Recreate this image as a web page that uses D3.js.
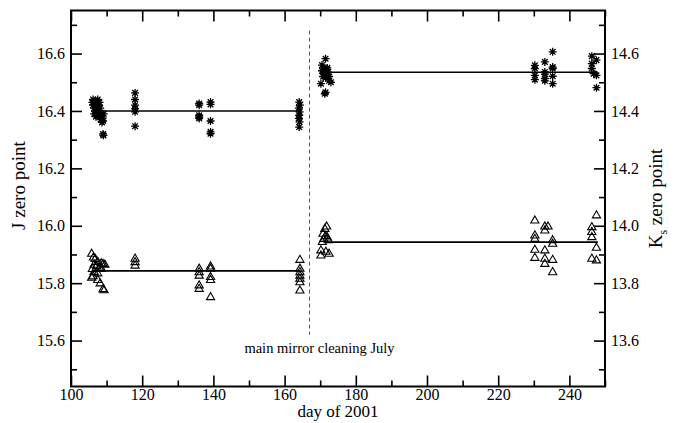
<!DOCTYPE html>
<html><head><meta charset="utf-8">
<script src="https://cdn.jsdelivr.net/npm/d3@7"></script>
<style>body{margin:0;background:#fff}svg{display:block}text{font-family:"Liberation Serif","DejaVu Serif",serif;fill:#000}</style>
</head><body><svg id="c" width="675" height="423"></svg>
<script>
// J zero point (asterisks), [day, value]
const jPoints = [
 [106,16.43],[106.2,16.42],[106.5,16.41],[106.8,16.435],[107,16.425],[107.2,16.415],[107.5,16.44],[107.3,16.40],
 [106.5,16.39],[107.8,16.42],[108,16.43],[108.2,16.41],[107.6,16.395],[108.5,16.38],[108.3,16.37],[108.7,16.36],
 [109,16.365],[108.9,16.375],[109.2,16.39],[108,16.39],[109,16.32],[109.1,16.315],[106.2,16.44],[107,16.38],
 [118,16.463],[118,16.44],[118,16.42],[118,16.408],[118,16.397],[118,16.347],
 [136,16.426],[136,16.42],[136,16.385],[136,16.379],[136,16.374],
 [139.2,16.431],[139.2,16.423],[139.2,16.365],[139.2,16.327],[139.2,16.321],
 [164.1,16.431],[164.3,16.42],[164,16.41],[164.2,16.397],[164.1,16.385],[164,16.374],[164.2,16.362],[164.1,16.344],
 [171.5,16.582],[170.5,16.56],[171,16.55],[171.5,16.545],[172,16.55],[170.5,16.54],[171,16.53],[172.2,16.535],
 [170.8,16.52],[171.5,16.515],[172.5,16.52],[172.5,16.505],[173,16.50],[170.2,16.495],[171.5,16.465],[171.3,16.46],
 [172,16.545],[171.8,16.53],
 [230.3,16.559],[230.3,16.548],[230.3,16.524],[230.3,16.509],
 [233.1,16.571],[233.1,16.536],[233.1,16.528],[233.1,16.513],[233.1,16.505],
 [235.3,16.606],[235.3,16.553],[235.3,16.548],[235.3,16.521],[235.3,16.495],
 [246.3,16.591],[247.6,16.577],[246.3,16.565],[246.3,16.548],[246.8,16.53],[247.6,16.524],[247.6,16.481]
];
// Ks zero point (triangles), [day, value]
const kPoints = [
 [105.8,13.903],[106.3,13.89],[106.8,13.885],[107.5,13.875],[108.5,13.87],[109,13.868],[106.5,13.865],[107.2,13.86],
 [108,13.855],[106,13.85],[106.5,13.84],[107.5,13.835],[106.2,13.825],[105.8,13.82],[107.5,13.812],[108.2,13.80],
 [109,13.78],[109.3,13.776],[109.5,13.865],[108.6,13.85],
 [118,13.886],[118,13.874],[118,13.862],
 [136,13.851],[136,13.839],[136,13.827],[136,13.793],[136,13.781],
 [139.2,13.859],[139.2,13.851],[139.2,13.822],[139.2,13.812],[139.2,13.752],
 [164.3,13.882],[164.3,13.851],[164.3,13.839],[164.3,13.827],[164.3,13.816],[164.3,13.804],[164.3,13.775],
 [171.8,13.998],[171.3,13.99],[170.8,13.973],[171.5,13.965],[172,13.96],[171,13.955],[172.3,13.95],[170.6,13.944],
 [170.2,13.915],[172.5,13.903],[170.2,13.897],[171.6,13.91],
 [230.3,14.019],[230.3,13.967],[230.3,13.955],[230.3,13.917],[230.3,13.889],
 [233.1,13.998],[234,13.998],[233.1,13.984],[233.1,13.915],[233.1,13.886],[233.1,13.868],
 [235.3,13.95],[235.3,13.938],[235.3,13.882],[235.3,13.839],
 [247.6,14.037],[246.3,13.996],[246.3,13.979],[246.3,13.961],[247.6,13.924],[246.3,13.886],[247.6,13.88]
];
// mean levels: [startDay, endDay, value]
const jFits = [[106,164.5,16.40],[171,248,16.535]];
const kFits = [[106,164.5,13.843],[171,248,13.943]];
const cleaningDay = 167;
const cleaningSpan = [15.62, 16.68]; // J units
const cleaningLabel = "main mirror cleaning July";
const xMajor = [100,120,140,160,180,200,220,240];
const xMinor = [110,130,150,170,190,210,230,250];
const jMajor = [15.6,15.8,16.0,16.2,16.4,16.6];
const jMinor = [15.5,15.7,15.9,16.1,16.3,16.5,16.7];
const kMajor = [13.6,13.8,14.0,14.2,14.4,14.6];
const kMinor = [13.5,13.7,13.9,14.1,14.3,14.5,14.7];

const svg = d3.select("#c");
const L=71,R=605,T=10.5,B=386.5;
const x = d3.scaleLinear().domain([100,250]).range([L,R]);
const yJ = d3.scaleLinear().domain([15.44,16.75]).range([B,T]);
const yK = d3.scaleLinear().domain([13.44,14.75]).range([B,T]);
const fs = 16;

function ax(gen, scale, vals, size, labels, tf, pad){
  const g = svg.append("g").attr("transform",tf)
    .call(gen(scale).tickValues(vals).tickSize(-size).tickPadding(labels?pad:0)
      .tickFormat(labels? (scale===x? d3.format("d") : d3.format(".1f")) : ""));
  g.select(".domain").remove();
  g.selectAll(".tick line").attr("stroke","#000").attr("stroke-width",1.6);
  g.selectAll("text").style("font-size",fs+"px").style("font-family",'"Liberation Serif",serif');
  return g;
}
ax(d3.axisBottom,x,xMajor,11,true,`translate(0,${B})`,2);
ax(d3.axisBottom,x,xMinor,6,false,`translate(0,${B})`);
ax(d3.axisTop,x,xMajor,11,false,`translate(0,${T})`);
ax(d3.axisTop,x,xMinor,6,false,`translate(0,${T})`);
ax(d3.axisLeft,yJ,jMajor,11,true,`translate(${L},0)`,6);
ax(d3.axisLeft,yJ,jMinor,6,false,`translate(${L},0)`);
ax(d3.axisRight,yK,kMajor,11,true,`translate(${R},0)`,6);
ax(d3.axisRight,yK,kMinor,6,false,`translate(${R},0)`);

svg.append("rect").attr("x",L).attr("y",T).attr("width",R-L).attr("height",B-T)
  .attr("fill","none").attr("stroke","#000").attr("stroke-width",2);

// dashed cleaning line
svg.append("line").attr("x1",x(cleaningDay)).attr("x2",x(cleaningDay))
  .attr("y1",yJ(cleaningSpan[1])).attr("y2",yJ(cleaningSpan[0]))
  .attr("stroke","#555").attr("stroke-width",1).attr("stroke-dasharray","4,3");
svg.append("text").attr("x",x(cleaningDay)+10).attr("y",yJ(cleaningSpan[0])+18)
  .attr("text-anchor","middle").style("font-size","14.5px").text(cleaningLabel);

// fit lines
svg.selectAll(".jf").data(jFits).join("line")
  .attr("x1",d=>x(d[0])).attr("x2",d=>x(d[1])).attr("y1",d=>yJ(d[2])).attr("y2",d=>yJ(d[2]))
  .attr("stroke","#000").attr("stroke-width",1.6);
svg.selectAll(".kf").data(kFits).join("line")
  .attr("x1",d=>x(d[0])).attr("x2",d=>x(d[1])).attr("y1",d=>yK(d[2])).attr("y2",d=>yK(d[2]))
  .attr("stroke","#000").attr("stroke-width",1.6);

// asterisks
const r=4, dd=r*0.7071;
const star = `M${-r},0L${r},0M0,${-r}L0,${r}M${-dd},${-dd}L${dd},${dd}M${-dd},${dd}L${dd},${-dd}`;
svg.append("g").selectAll("path").data(jPoints).join("path")
  .attr("d",star).attr("transform",d=>`translate(${x(d[0])},${yJ(d[1])})`)
  .attr("stroke","#000").attr("stroke-width",1.3).attr("fill","none");
// triangles
const tri = "M0,-4.4L4.1,2.7L-4.1,2.7Z";
svg.append("g").selectAll("path").data(kPoints).join("path")
  .attr("d",tri).attr("transform",d=>`translate(${x(d[0])},${yK(d[1])})`)
  .attr("stroke","#000").attr("stroke-width",1.1).attr("fill","none");

// axis titles
svg.append("text").attr("x",(L+R)/2).attr("y",417).attr("text-anchor","middle")
  .style("font-size","17px").text("day of 2001");
svg.append("text").attr("transform",`translate(25,${yJ(16.14)}) rotate(-90)`).attr("text-anchor","middle")
  .style("font-size","19px").text("J zero point");
const kt = svg.append("text").attr("transform",`translate(662,${(T+B)/2}) rotate(-90)`).attr("text-anchor","middle")
  .style("font-size","19px");
kt.append("tspan").text("K");
kt.append("tspan").attr("dy",5).style("font-size","12px").text("s");
kt.append("tspan").attr("dy",-5).text(" zero point");
</script></body></html>
